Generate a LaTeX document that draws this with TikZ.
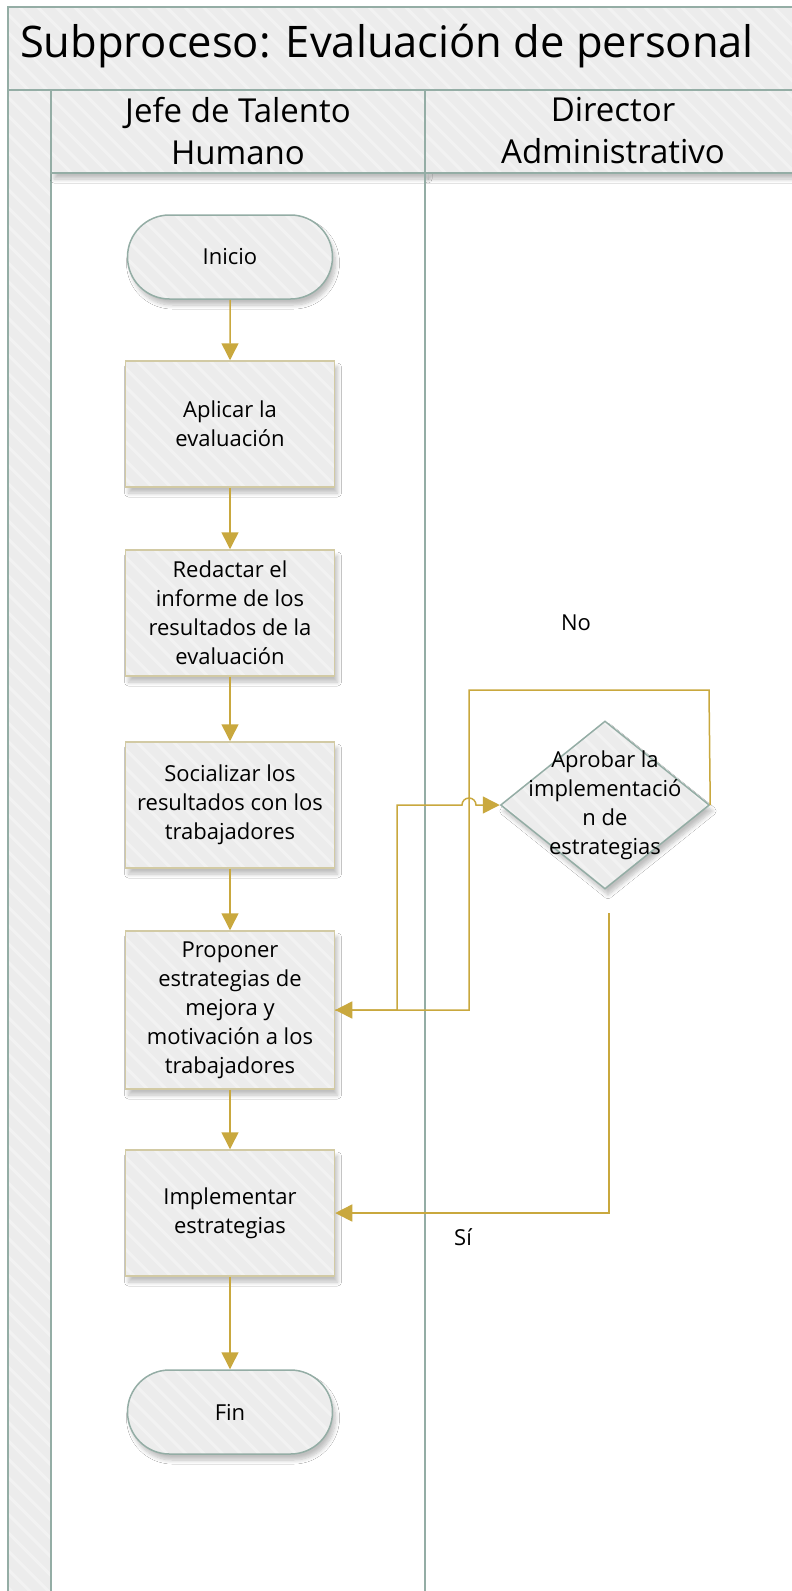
\documentclass[tikz,border=0pt]{standalone}
\usepackage{fontspec}
\setmainfont{Open Sans}
\usetikzlibrary{shapes.geometric,shapes.misc,arrows.meta,shadows.blur}

\definecolor{panelgrey}{HTML}{ECECEC}
\definecolor{stripe}{HTML}{F2F2F2}
\definecolor{laneline}{HTML}{94ADA5}
\definecolor{boxline}{HTML}{D2CAA4}
\definecolor{flow}{HTML}{C9A83E}

\tikzset{
  % light grey fill with faint diagonal stripes
  hatched/.style={fill=panelgrey,
    path picture={
      \foreach \k in {0,...,140}
        \draw[stripe, line width=3pt]
          ([xshift=\k*18.4pt-1700pt]path picture bounding box.north west) -- ++(1800pt,-1800pt);
    }},
  lanebox/.style={hatched, draw=laneline, line width=1.6pt},
  softshadow/.style={blur shadow={shadow xshift=3pt, shadow yshift=-6pt,
    shadow blur radius=4pt, shadow blur steps=8, shadow opacity=25}},
  nodetext/.style={font=\fontsize{22}{29}\selectfont, align=center, text=black},
  process/.style={rectangle, hatched, softshadow, draw=boxline, line width=1.5pt,
    minimum width=209pt, minimum height=126pt, inner sep=2pt, nodetext},
  terminal/.style={rounded rectangle, hatched, softshadow, draw=laneline, line width=1.5pt,
    minimum width=209pt, minimum height=84pt, inner sep=2pt, nodetext},
  decision/.style={diamond, hatched, softshadow, draw=laneline, line width=1.5pt,
    minimum width=209pt, minimum height=168pt, inner sep=0pt},
  flowline/.style={draw=flow, line width=1.5pt},
  flowarrow/.style={flowline, -{Triangle[length=17pt,width=17pt]}},
  label text/.style={font=\fontsize{22}{26}\selectfont, text=black},
  header text/.style={font=\fontsize{33}{42}\selectfont, align=center, text=black},
}

\begin{document}
\begin{tikzpicture}[x=1pt,y=-1pt]
\clip (0,0) rectangle (792,1591);
\fill[white] (0,0) rectangle (792,1591);

% lane bodies
\draw[laneline, line width=1.6pt, fill=white] (51,173) rectangle (425,1620);
\draw[laneline, line width=1.6pt, fill=white] (425,173) rectangle (820,1620);

% pool frame: title band, side strip and lane headers
\path[lanebox] (8,7) rectangle (820,90);
\path[lanebox] (8,90) rectangle (51,1620);
\path[lanebox, softshadow] (51,90) rectangle (425,173);
\path[lanebox, softshadow] (425,90) rectangle (820,173);
\draw[laneline, line width=1.6pt] (425,173) -- (425,1620);

\node[font=\fontsize{43.5}{50}\selectfont] (title) at (387,46) {Subproceso: Evaluación de personal};
\node[header text] (lane1) at (238,131) {Jefe de Talento\\Humano};
\node[header text] (lane2) at (613,131) {Director\\Administrativo};

% flow nodes
\node[terminal] (inicio) at (230,257) {Inicio};
\node[process] (aplicar) at (230,424) {Aplicar la\\evaluación};
\node[process] (redactar) at (230,613) {Redactar el\\informe de los\\resultados de la\\evaluación};
\node[process] (socializar) at (230,805) {Socializar los\\resultados con los\\trabajadores};
\node[process, minimum height=158pt] (proponer) at (230,1010) {Proponer\\estrategias de\\mejora y\\motivación a los\\trabajadores};
\node[process] (implementar) at (230,1213) {Implementar\\estrategias};
\node[terminal] (fin) at (230,1412) {Fin};

\node[decision] (aprobar) at (605,805) {};
\node[nodetext] (aprobartext) at (aprobar.center) {Aprobar la\\implementació\\n de\\estrategias};

% main sequence
\draw[flowarrow] (inicio) -- (aplicar);
\draw[flowarrow] (aplicar) -- (redactar);
\draw[flowarrow] (redactar) -- (socializar);
\draw[flowarrow] (socializar) -- (proponer);
\draw[flowarrow] (proponer) -- (implementar);
\draw[flowarrow] (implementar) -- (fin);

% proposal sent for approval (hops over the return line)
\draw[flowarrow] (proponer.east) -- (397,1010) -- (397,805) -- (462,805)
  arc[start angle=180, end angle=0, radius=7pt] -- (aprobar.west);

% rejected: back to the proposal
\draw[flowarrow] (aprobar.east) -- (709,690) -- (469,690) -- (469,1010) -- (proponer.east);

% approved: implement
\coordinate (sistart) at (609,913);
\draw[flowarrow] (sistart) |- (implementar.east);

\node[label text] (nolabel) at (576,623) {No};
\node[label text] (silabel) at (463,1237) {Sí};
\end{tikzpicture}
\end{document}
